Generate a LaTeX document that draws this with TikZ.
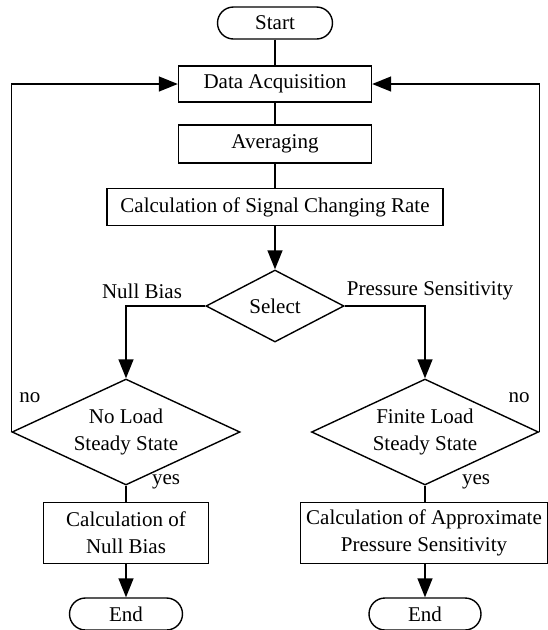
\documentclass[tikz,border=0pt]{standalone}
\usepackage{fontspec}
\setmainfont{Liberation Serif}
\usetikzlibrary{arrows.meta,shapes.geometric}
\begin{document}
\begin{tikzpicture}[x=1pt,y=-1pt,line width=1.4pt,
  every node/.style={font=\fontsize{21}{27}\selectfont},
  box/.style={draw,rectangle,inner sep=0pt,align=center},
  term/.style={draw,rectangle,rounded corners=16pt,inner sep=0pt,minimum height=32pt},
  dec/.style={draw,diamond,inner sep=0pt,align=center},
  arr/.style={-{Triangle[length=19pt,width=15pt]}},
  lbl/.style={inner sep=0pt}]
\useasboundingbox (0,0) rectangle (548,630);
\node[term,minimum width=115pt] (start) at (275,23) {Start};
\node[box,minimum width=193pt,minimum height=36pt] (acq) at (275,84) {Data Acquisition};
\node[box,minimum width=193pt,minimum height=38pt] (avg) at (275,144) {Averaging};
\node[box,minimum width=336pt,minimum height=37pt] (calc) at (275,207) {Calculation of Signal Changing Rate};
\node[dec,minimum width=138pt,minimum height=72pt,shape aspect=1.92] (sel) at (275,306) {Select};
\node[dec,minimum width=228pt,minimum height=106pt,shape aspect=2.15] (nl) at (126,432) {No Load\\Steady State};
\node[dec,minimum width=227pt,minimum height=106pt,shape aspect=2.15] (fl) at (425,432) {Finite Load\\Steady State};
\node[box,minimum width=165pt,minimum height=61pt] (cnb) at (126,533) {Calculation of\\Null Bias};
\node[box,minimum width=247pt,minimum height=61pt] (cps) at (424,533) {Calculation of Approximate\\Pressure Sensitivity};
\node[term,minimum width=113pt] (end1) at (126,614) {End};
\node[term,minimum width=112pt] (end2) at (425,614) {End};
\node[lbl] (lnb) at (142,291) {Null Bias};
\node[lbl] (lps) at (430,291) {Pressure Sensitivity};
\node[lbl] (no1) at (30,398) {no};
\node[lbl] (no2) at (519,398) {no};
\node[lbl] (yes1) at (166,482) {yes};
\node[lbl] (yes2) at (476,482) {yes};
\draw (start) -- (acq);
\draw (acq) -- (avg);
\draw (avg) -- (calc);
\draw[arr] (calc) -- (sel);
\draw[arr] (sel.west) -| (nl.north);
\draw[arr] (sel.east) -| (fl.north);
\draw (nl.south) -- (cnb.north -| nl.south);
\draw (fl.south) -- (cps.north -| fl.south);
\draw[arr] (cnb.south -| end1) -- (end1);
\draw[arr] (cps.south -| end2) -- (end2);
\draw[arr] (nl.west) |- (acq.west);
\draw[arr] (fl.east) |- (acq.east);
\end{tikzpicture}
\end{document}
